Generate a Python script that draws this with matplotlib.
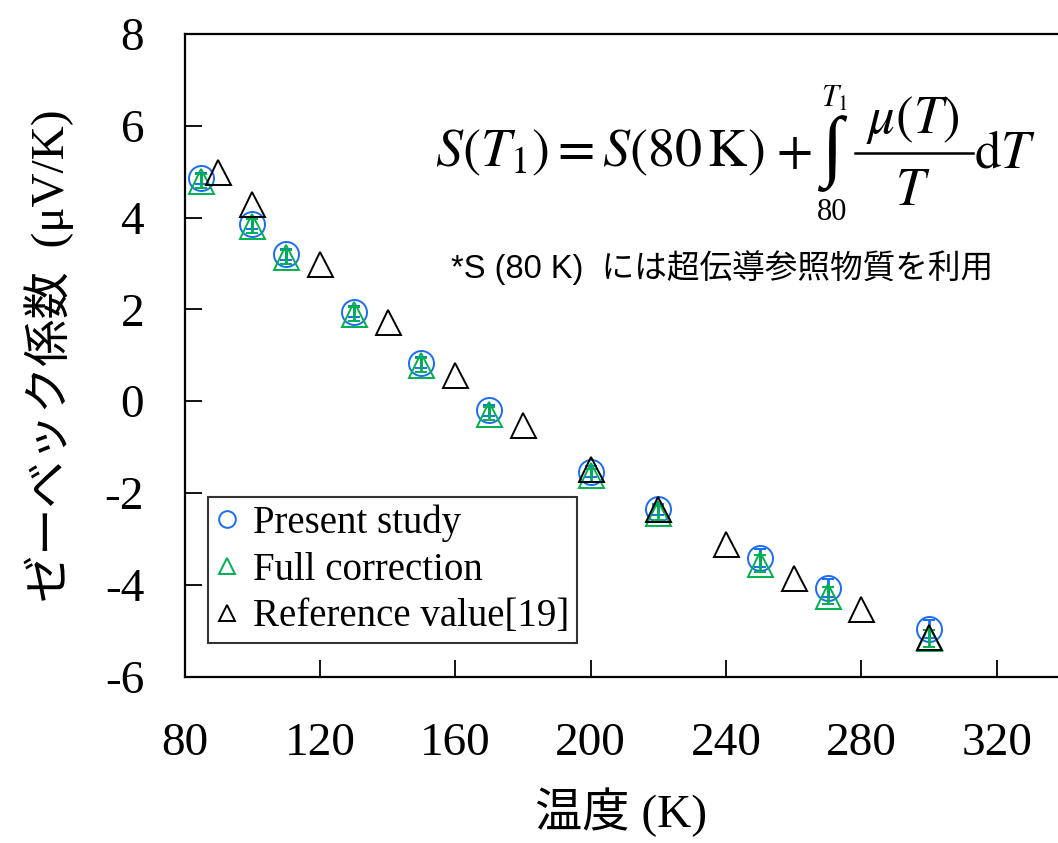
import matplotlib
matplotlib.use("Agg")
import matplotlib.pyplot as plt
from matplotlib.lines import Line2D

# ---- data ----
T_present = [85, 100, 110, 130, 150, 170, 200, 220, 250, 270, 300]
S_present = [4.86, 3.87, 3.20, 1.95, 0.84, -0.20, -1.54, -2.36, -3.42, -4.07, -4.97]
err_present = [0.12, 0.12, 0.12, 0.12, 0.12, 0.12, 0.12, 0.12, 0.2, 0.2, 0.2]

T_full = [85, 100, 110, 130, 150, 170, 200, 220, 250, 270, 300]
S_full = [4.80, 3.82, 3.14, 1.90, 0.79, -0.27, -1.62, -2.44, -3.54, -4.24, -5.17]
err_full = [0.15, 0.15, 0.15, 0.15, 0.15, 0.15, 0.15, 0.15, 0.18, 0.18, 0.18]

T_ref = [90, 100, 120, 140, 160, 180, 200, 220, 240, 260, 280, 300]
S_ref = [4.99, 4.29, 2.99, 1.73, 0.56, -0.51, -1.47, -2.35, -3.11, -3.86, -4.52, -5.13]

labels = ["Present study", "Full correction", "Reference value[19]"]
xticks = [80, 120, 160, 200, 240, 280, 320]
yticks = [-6, -4, -2, 0, 2, 4, 6, 8]

BLUE = "#1a6cf5"
GREEN = "#00b050"

serif_cjk = ["Liberation Serif", "Noto Sans CJK JP"]
sans_cjk = ["Liberation Sans", "Noto Sans CJK JP"]
plt.rcParams["mathtext.fontset"] = "stix"
plt.rcParams["axes.unicode_minus"] = False

W, H = 1058, 843
fig = plt.figure(figsize=(W / 100, H / 100), dpi=100)
ax = fig.add_axes([184.5 / W, (H - 676.5) / H, 1 - 184.5 / W, (676.5 - 34) / H])

ms = 18
ax.errorbar(T_present, S_present, yerr=err_present, fmt="o", mfc="none", mec=BLUE,
            ms=ms, mew=1.4, ecolor=BLUE, elinewidth=2, capsize=4, capthick=2, zorder=3)
ax.errorbar(T_full, S_full, yerr=err_full, fmt="^", mfc="none", mec=GREEN,
            ms=ms, mew=1.4, ecolor=GREEN, elinewidth=2, capsize=4, capthick=2, zorder=4)
ax.plot(T_ref, S_ref, "^", mfc="none", mec="black", ms=ms, mew=1.4, ls="none", zorder=5)

ax.set_xlim(80, 338.1)
ax.set_ylim(-6, 8)
ax.set_xticks(xticks)
ax.set_yticks(yticks)
ax.tick_params(direction="in", length=12, width=1.3, labelsize=34)
ax.tick_params(axis="y", pad=29)
ax.tick_params(axis="x", pad=33)
for lab in ax.get_xticklabels() + ax.get_yticklabels():
    lab.set_fontfamily("Liberation Serif")
ax.spines["right"].set_visible(False)
for s in ["left", "bottom", "top"]:
    ax.spines[s].set_linewidth(1.6)

ax.set_xlabel("温度 (K)", fontsize=34, family=serif_cjk, labelpad=16)
ax.set_ylabel("ゼーベック係数  (μV/K)", fontsize=34, family=serif_cjk, labelpad=22)

handles = [
    Line2D([], [], marker="o", mfc="none", mec=BLUE, ms=12, mew=1.4, ls="none"),
    Line2D([], [], marker="^", mfc="none", mec=GREEN, ms=12, mew=1.4, ls="none"),
    Line2D([], [], marker="^", mfc="none", mec="black", ms=12, mew=1.4, ls="none"),
]
leg = ax.legend(handles, labels, loc="lower left",
                bbox_to_anchor=(208 / W, (H - 643) / H), bbox_transform=fig.transFigure,
                prop={"family": "Liberation Serif", "size": 28}, frameon=True, fancybox=False,
                edgecolor="black", handlelength=0.6, handletextpad=0.35, borderpad=0.2,
                labelspacing=0.25, borderaxespad=0)
leg.get_frame().set_linewidth(1.5)

def fx(x):
    return x / W

def fy(y):
    return (H - y) / H

fig.text(fx(764), fy(152), r"$S\left(T_1\right) = S\left(80\,\mathrm{K}\right)$",
         fontsize=39, ha="right", va="center")
fig.text(fx(794), fy(152), r"$+$", fontsize=38, ha="center", va="center")
fig.text(fx(832), fy(154), "∫", fontsize=56, family="Liberation Serif",
         ha="center", va="center")
fig.text(fx(835), fy(98), r"$T_1$", fontsize=22, ha="center", va="center")
fig.text(fx(832), fy(212), "80", fontsize=22, family="Liberation Serif",
         ha="center", va="center")
fig.text(fx(913), fy(120), r"$\mu\left(T\right)$", fontsize=38, ha="center", va="center")
fig.add_artist(Line2D([fx(855), fx(973)], [fy(153), fy(153)], color="black", lw=1.8,
                      transform=fig.transFigure))
fig.text(fx(913), fy(190), r"$T$", fontsize=38, ha="center", va="center")
fig.text(fx(974), fy(152), r"$\mathrm{d}T$", fontsize=38, ha="left", va="center")

fig.text(fx(722), fy(268), "*S (80 K)  には超伝導参照物質を利用",
         fontsize=23.5, family=sans_cjk, ha="center", va="center")

fig.savefig("out.png", dpi=100)
